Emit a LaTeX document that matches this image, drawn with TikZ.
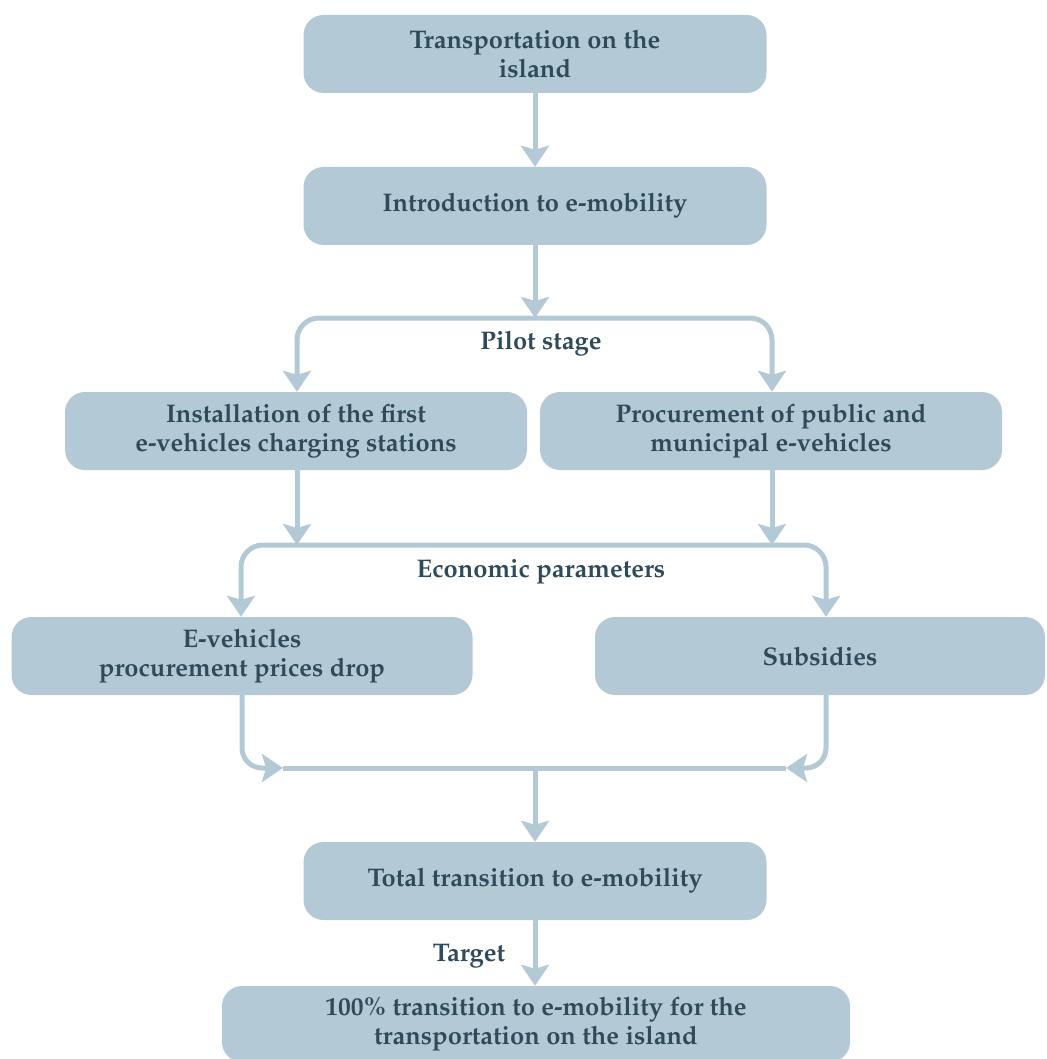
\documentclass[tikz,border=0pt]{standalone}
\usepackage[T1]{fontenc}
\renewcommand{\rmdefault}{ppl}
\usetikzlibrary{arrows.meta}
\definecolor{boxc}{HTML}{B3CAD6}
\definecolor{txtc}{HTML}{2F4A5A}
\tikzset{
  box/.style={fill=boxc, rounded corners=20pt, text=txtc, align=center, inner sep=0pt,
    font=\fontsize{25.5}{29}\selectfont\bfseries, minimum height=78pt},
  lbl/.style={text=txtc, font=\fontsize{25.5}{29}\selectfont\bfseries, inner sep=0pt},
  line/.style={draw=boxc, line width=5pt},
  tip/.tip={Stealth[length=21pt,width=28pt,inset=4pt]},
  conn/.style={line, -tip},
}
\begin{document}
\begin{tikzpicture}[x=1pt,y=-1pt]
\useasboundingbox (0,0) rectangle (1046,1059);
\node[box, minimum width=463pt] (b1) at (535,54) {Transportation on the\\island};
\node[box, minimum width=463pt] (b2) at (535,206) {Introduction to e-mobility};
\node[box, minimum width=462pt] (b3l) at (296,431) {Installation of the first\\e-vehicles charging stations};
\node[box, minimum width=462pt] (b3r) at (771,431) {Procurement of public and\\municipal e-vehicles};
\node[box, minimum width=461pt] (b4l) at (242,656) {E-vehicles\\procurement prices drop};
\node[box, minimum width=450pt] (b4r) at (820,656) {Subsidies};
\node[box, minimum width=463pt] (b5) at (535,881) {Total transition to e-mobility};
\node[box, minimum width=628pt, minimum height=76pt] (b6) at (536,1024) {100\% transition to e-mobility for the\\transportation on the island};

\node[lbl] (l1) at (541,344) {Pilot stage};
\node[lbl] (l2) at (541,572) {Economic parameters};
\node[lbl] (l3) at (469,956) {Target};

\coordinate (pl) at (297,318);
\coordinate (pr) at (772,318);
\coordinate (ql) at (241,545);
\coordinate (qr) at (826,545);
\coordinate (al) at (297,545);
\coordinate (ar) at (772,545);
\coordinate (ml) at (242,768);
\coordinate (mr) at (826,768);
\coordinate (mc) at (535,768);
\coordinate (tl) at (283,768);
\coordinate (tr) at (786,768);

\draw[conn] (b1) -- (b2);
\draw[conn] (b2.south) -- (b2.south |- pl);
\draw[line, tip-tip, rounded corners=22pt] (pl |- b3l.north) -- (pl) -- (pr) -- (pr |- b3r.north);
\draw[conn] (al |- b3l.south) -- (al);
\draw[conn] (ar |- b3r.south) -- (ar);
\draw[line, tip-tip, rounded corners=22pt] (ql |- b4l.north) -- (ql) -- (qr) -- (qr |- b4r.north);
\draw[conn, rounded corners=20pt] (ml |- b4l.south) -- (ml) -- (tl);
\draw[conn, rounded corners=20pt] (mr |- b4r.south) -- (mr) -- (tr);
\draw[line] (tl) -- (tr);
\draw[conn] (mc) -- (b5);
\draw[conn] (b5.south) -- (b5.south |- b6.north);
\end{tikzpicture}
\end{document}
